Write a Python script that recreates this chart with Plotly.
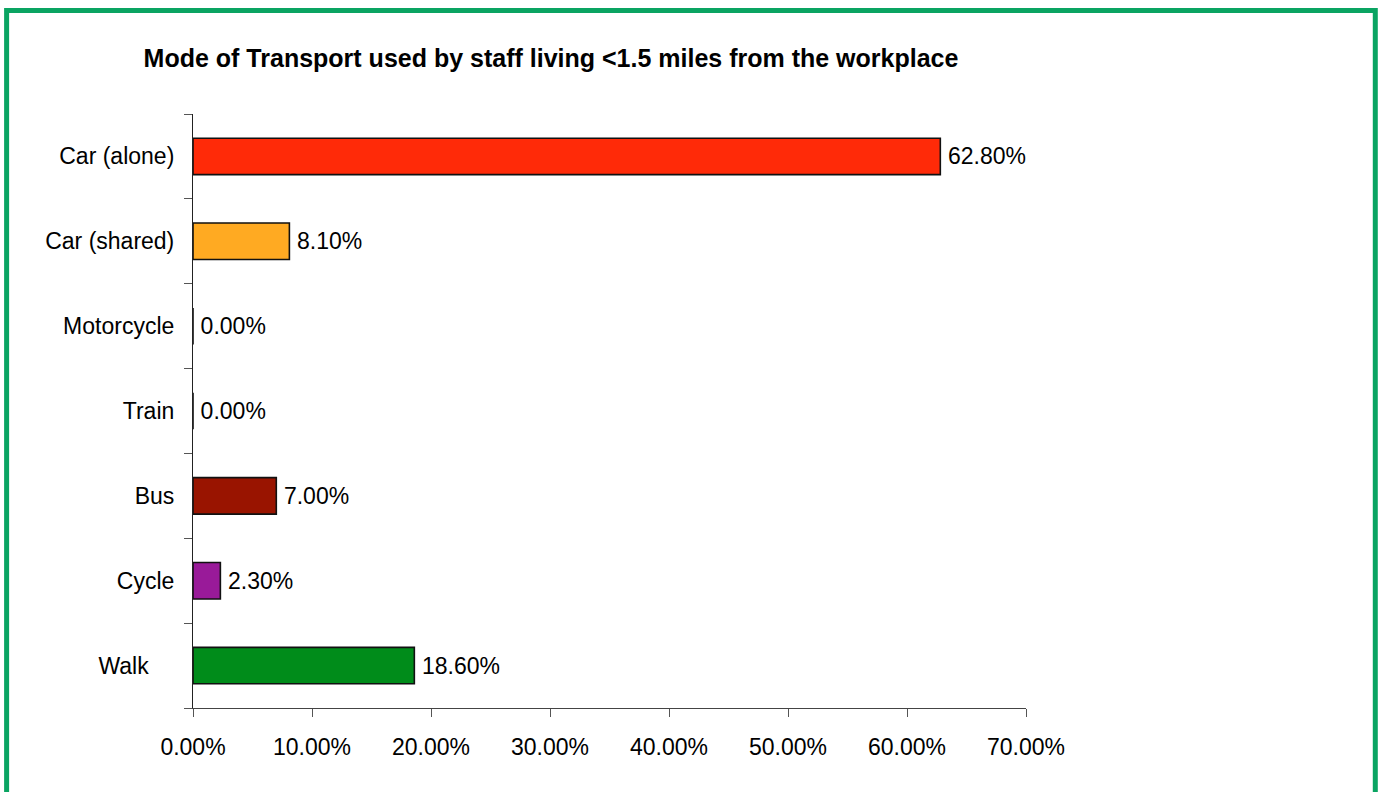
import plotly.graph_objects as go

# Survey results: share of staff living under 1.5 miles away, by travel mode
modes = ["Car (alone)", "Car (shared)", "Motorcycle", "Train", "Bus", "Cycle", "Walk"]
shares = [0.628, 0.081, 0.0, 0.0, 0.07, 0.023, 0.186]
colors = ["#FF2A08", "#FFAA22", "#FFFFFF", "#FFFFFF", "#991400", "#991A99", "#008C1A"]
# Category labels as printed beside the axis
mode_labels = ["Car (alone)", "Car (shared)", "Motorcycle", "Train", "Bus", "Cycle",
               "Walk\u00a0\u00a0\u00a0\u00a0"]
x_ticks = [0.0, 0.1, 0.2, 0.3, 0.4, 0.5, 0.6, 0.7]

FONT = "Liberation Sans, Arial, sans-serif"

# Pixel geometry of the plotting area
W, H = 1383, 792
L, R, T, B = 193, 1026.5, 114, 708


def px_x(p):
    return (p - L) / (R - L)


def px_y(q):
    return (B - q) / (B - T)


fig = go.Figure(
    go.Bar(
        x=shares,
        y=modes,
        orientation="h",
        marker=dict(color=colors, line=dict(color="#111111", width=1.6)),
        # thin space keeps the value labels clear of the bar ends
        text=[f"\u2009{v * 100:.2f}%" for v in shares],
        textposition="outside",
        textfont=dict(family=FONT, size=23, color="#000000"),
        cliponaxis=False,
        hoverinfo="skip",
    )
)

fig.update_layout(
    width=W,
    height=H,
    margin=dict(l=L, r=W - R, t=T, b=H - B, pad=0),
    paper_bgcolor="#FFFFFF",
    plot_bgcolor="#FFFFFF",
    showlegend=False,
    bargap=0.57,
    font=dict(family=FONT, size=23, color="#000000"),
    title=dict(
        text="<b>Mode of Transport used by staff living &lt;1.5 miles from the workplace</b>",
        font=dict(family=FONT, size=25, color="#000000"),
        xref="container",
        x=551 / W,
        xanchor="center",
        yref="container",
        y=1 - 58 / H,
        yanchor="middle",
    ),
    xaxis=dict(
        range=[0, 0.7],
        tickvals=x_ticks,
        tickformat=".2%",
        showgrid=False,
        zeroline=False,
        showline=True,
        linecolor="#444444",
        linewidth=1.2,
        ticks="outside",
        ticklen=8,
        tickcolor="#555555",
        tickwidth=1.2,
        ticklabelstandoff=10,
        tickfont=dict(family=FONT, size=23, color="#000000"),
        fixedrange=True,
    ),
    yaxis=dict(
        categoryorder="array",
        categoryarray=modes,
        autorange="reversed",
        tickvals=modes,
        ticktext=mode_labels,
        tickson="boundaries",
        showgrid=False,
        zeroline=False,
        showline=True,
        linecolor="#222222",
        linewidth=1.2,
        ticks="outside",
        ticklen=8,
        tickcolor="#555555",
        tickwidth=1.2,
        ticklabelstandoff=13,
        tickfont=dict(family=FONT, size=23, color="#000000"),
        fixedrange=True,
    ),
    shapes=[
        dict(
            type="rect",
            xref="paper",
            yref="paper",
            x0=px_x(6.5),
            x1=px_x(1376),
            y0=px_y(805),
            y1=px_y(10.5),
            line=dict(color="#0AA462", width=5),
            fillcolor="rgba(0,0,0,0)",
            layer="below",
        )
    ],
)

fig.write_html("out.html", config={"displayModeBar": False})
